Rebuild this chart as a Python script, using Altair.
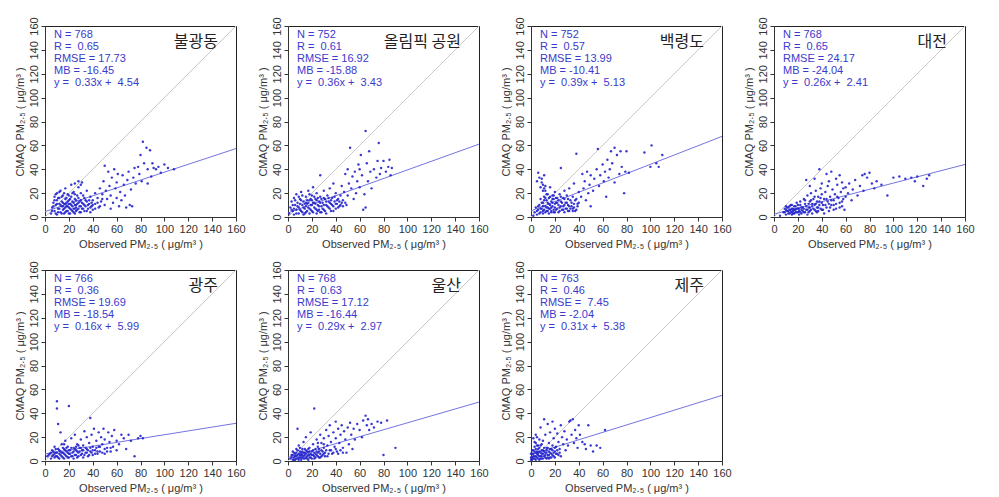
import altair as alt
import pandas as pd

FONT = "Liberation Sans"
KFONT = "Noto Sans CJK KR"

STATIONS = ["불광동", "올림픽 공원", "백령도", "대전", "광주", "울산", "제주"]
N_VALS = [768, 752, 752, 768, 766, 768, 763]
R_VALS = ["0.65", "0.61", "0.57", "0.65", "0.36", "0.63", "0.46"]
RMSE_VALS = ["17.73", "16.92", "13.99", "24.17", "19.69", "17.12", "\u00a07.45"]
MB_VALS = ["-16.45", "-15.88", "-10.41", "-24.04", "-18.54", "-16.44", "-2.04"]
SLOPES = [0.33, 0.36, 0.39, 0.26, 0.16, 0.29, 0.31]
INTERCEPTS = [4.54, 3.43, 5.13, 2.41, 5.99, 2.97, 5.38]

P1 = [(5,3),(6,8),(7,12),(8,5),(8,17),(9,10),(10,2),(10,14),(10,20),(11,7),(12,11),(12,16),(13,4),(13,22),(14,9),(14,13),(15,6),(15,18),(16,3),(16,11),(17,8),(17,15),(17,24),(18,5),(18,12),(19,9),(19,19),(20,3),(20,14),(21,7),(21,11),(22,17),(22,27),(23,5),(23,9),(24,12),(24,21),(25,3),(25,15),(26,8),(26,10),(27,18),(27,6),(28,12),(28,25),(29,4),(29,9),(30,14),(30,20),(31,7),(31,29),(32,11),(33,16),(33,5),(34,9),(35,13),(35,22),(36,7),(37,11),(38,17),(38,4),(39,9),(40,14),(40,6),(28,30),(30,27),(25,28),
      (42,20),(42,11),(44,16),(45,8),(46,24),(47,13),(48,19),(49,30),(50,10),(50,43),(51,22),(52,15),(53,38),(54,26),(55,7),(55,18),(56,33),(57,12),(58,40),(59,24),(60,16),(60,29),(61,36),(62,9),(63,21),(64,14),(65,35),(66,27),(67,18),(68,8),(69,31),(70,38),(71,10),(72,23),(73,9),(74,33),(75,41),
      (76,28),(78,42),(79,36),(80,52),(81,30),(82,63),(83,45),(85,58),(86,40),(88,56),(89,34),(90,45),(91,41),(93,40),(95,42),(97,37),(100,44),(103,41),(108,40),(86,28),
      (6,5),(7,9),(8,14),(9,3),(9,19),(10,11),(11,4),(11,16),(12,7),(12,21),(13,10),(14,3),(14,17),(15,12),(16,7),(16,20),(17,4),(17,11),(18,9),(18,16),(19,5),(19,13),(20,8),(20,18),(21,3),(21,15),(22,6),(22,10),(23,13),(23,20),(24,4),(24,7),(25,10),(25,19),(26,5),(26,14),(27,11),(28,7),(28,16),(29,13),(30,4),(30,9),(31,12),(32,7),(32,18),(33,10),(34,14),(35,5),(36,10),(37,14),(38,8),(39,12),(40,10),(42,7),(44,12),(46,9),(48,15),(15,9),(20,11),(25,7)]
P2 = [(1,3),(2,8),(3,13),(4,5),(5,16),(5,2),(6,10),(7,6),(7,19),(8,12),(9,3),(9,8),(10,15),(11,5),(11,21),(12,10),(13,2),(13,13),(14,7),(15,17),(15,4),(16,11),(17,8),(17,22),(18,14),(18,3),(19,6),(20,10),(20,18),(21,4),(21,25),(22,12),(23,7),(23,15),(24,3),(24,20),(25,10),(26,6),(26,13),(27,17),(27,35),(28,4),(28,9),(29,12),(30,22),(30,6),(31,15),(32,10),(32,3),(33,18),(34,8),(34,13),(35,24),(36,5),(36,11),(37,16),(38,9),(38,28),(39,13),(40,7),(40,20),(41,11),(42,15),(43,9),(44,18),(45,12),(45,26),
      (46,14),(47,21),(48,36),(49,10),(50,18),(50,40),(51,28),(52,58),(53,24),(54,34),(55,15),(56,38),(57,20),(58,30),(59,44),(60,25),(60,40),(61,52),(62,35),(63,6),(64,19),(65,8),(65,72),(66,45),(67,30),(68,55),(69,38),(70,24),(72,40),(74,33),(75,47),(76,62),(77,36),(78,41),(80,47),(82,38),(84,42),(85,48),(86,35),(87,41),
      (3,6),(4,10),(5,7),(6,14),(7,3),(8,9),(9,17),(10,6),(10,11),(11,14),(12,4),(12,18),(13,8),(14,11),(14,3),(15,9),(16,14),(16,5),(17,12),(18,7),(18,19),(19,10),(19,15),(20,5),(21,12),(22,8),(22,17),(23,11),(24,6),(24,14),(25,16),(26,9),(27,4),(27,12),(28,15),(29,7),(30,10),(30,16),(31,5),(32,13),(33,9),(34,16),(35,7),(35,12),(36,14),(37,10),(38,5),(39,17),(40,11),(41,14),(42,8),(43,13),(44,10),(46,9),(48,12),(15,12),(20,14),(25,5)]
P3 = [(2,1),(3,4),(4,8),(5,2),(5,30),(6,37),(6,6),(7,10),(7,33),(8,4),(8,25),(8,15),(9,7),(9,32),(10,3),(10,12),(10,27),(11,6),(11,17),(11,35),(12,9),(12,22),(13,5),(13,14),(14,8),(14,19),(15,3),(15,11),(15,16),(16,7),(16,25),(17,13),(17,5),(18,18),(18,9),(19,4),(19,15),(20,8),(20,21),(21,12),(21,6),(22,16),(23,4),(23,10),(24,19),(24,8),(25,13),(25,41),(26,6),(27,16),(27,9),(28,22),(28,4),(29,12),(30,18),(30,7),(31,10),(32,24),(32,5),(33,14),(34,9),(35,17),(35,7),(36,28),(36,11),(37,5),(38,15),(38,53),(39,9),(40,21),(40,12),
      (42,17),(43,36),(44,24),(45,30),(46,14),(47,38),(48,20),(49,27),(50,9),(50,35),(52,22),(53,32),(55,40),(56,57),(57,26),(58,35),(60,44),(61,30),(62,38),(63,17),(64,48),(65,33),(66,40),(67,55),(68,45),(70,58),(70,29),(72,52),(74,36),(75,55),(76,42),(78,20),(79,38),(80,55),(82,37),(95,54),(100,42),(101,60),(105,45),(110,52),(107,42),
      (5,5),(6,9),(7,3),(8,7),(9,12),(10,5),(10,9),(11,14),(12,4),(12,16),(13,8),(13,19),(14,5),(14,12),(15,7),(16,10),(16,17),(17,4),(17,8),(18,12),(18,15),(19,6),(19,18),(20,4),(20,11),(21,16),(22,7),(22,12),(23,14),(24,5),(25,9),(25,17),(26,12),(27,6),(28,10),(28,15),(29,7),(30,12),(31,5),(31,15),(32,9),(33,7),(34,12),(35,5),(36,8),(37,14),(38,6),(39,11),(11,24),(12,26),(9,29),(10,22)]
P4 = [(5,1),(8,4),(9,7),(10,2),(10,9),(11,5),(12,3),(12,8),(13,6),(14,4),(14,10),(15,2),(15,7),(16,5),(17,9),(17,3),(18,6),(19,4),(19,12),(20,7),(21,2),(21,5),(22,10),(23,6),(23,3),(24,8),(25,15),(25,4),(26,11),(27,6),(28,2),(28,18),(29,8),(30,13),(30,5),(31,20),(32,9),(32,3),(33,15),(34,6),(35,11),(35,22),(36,4),(37,17),(37,8),(38,13),(39,24),(40,6),(40,19),(41,10),(42,15),(42,3),(43,21),(44,8),(45,13),(45,26),(46,5),(47,17),(48,10),(49,23),(50,14),(50,6),(51,19),(52,11),(53,27),(54,16),(55,8),(56,21),(57,13),(58,24),(59,6),(60,17),
      (27,31),(30,26),(34,32),(38,40),(40,28),(44,36),(46,30),(48,38),(52,32),(55,35),(57,29),(60,25),(62,20),(63,28),(65,14),(66,23),(68,31),(70,18),(72,26),(74,35),(75,22),(76,36),(78,33),(80,37),(82,28),(84,24),(86,30),(90,27),(95,18),(100,33),(105,34),(110,32),(115,33),(120,34),(125,26),(128,32),(130,35),(118,30),
      (9,4),(10,6),(11,8),(12,5),(13,3),(13,9),(14,6),(15,4),(15,10),(16,7),(16,3),(17,6),(18,4),(18,9),(19,7),(20,4),(20,10),(21,7),(22,4),(22,13),(23,8),(24,5),(25,7),(26,4),(26,14),(27,9),(28,6),(29,11),(29,4),(30,8),(31,6),(31,14),(32,11),(33,7),(34,10),(34,17),(35,5),(36,8),(36,13),(37,5),(38,10),(39,7),(39,16),(40,12),(41,6),(43,10),(44,15),(46,11),(47,8),(48,14),(50,10),(52,7),(53,17),(55,12),(57,9),(58,15)]
P5 = [(2,4),(4,6),(5,2),(6,9),(7,5),(8,3),(8,12),(9,7),(10,4),(10,50),(10,44),(11,10),(11,31),(12,2),(12,6),(13,8),(13,24),(14,4),(14,14),(15,7),(16,2),(16,10),(17,5),(17,17),(18,8),(19,3),(19,12),(20,6),(20,46),(21,9),(22,4),(22,19),(23,7),(24,11),(24,2),(25,5),(25,22),(26,9),(27,14),(27,3),(28,7),(29,11),(30,5),(30,18),(31,9),(32,3),(32,13),(33,25),(34,7),(35,10),(35,20),(36,4),(37,15),(38,36),(38,8),(39,22),(40,12),(40,5),(41,27),(42,9),(43,17),(44,6),(45,24),(45,12),(46,8),(47,20),(48,14),(49,27),(50,6),(50,18),(52,11),(53,24),(54,16),(55,8),(56,21),(57,12),(58,26),(60,17),(60,9),(62,14),(64,22),(66,19),(68,10),(70,22),(72,17),(75,4),(78,19),(80,21),(82,19),
      (3,5),(5,7),(6,4),(7,8),(8,6),(9,4),(9,10),(10,7),(11,3),(12,9),(13,5),(14,7),(15,3),(15,11),(16,6),(17,9),(18,4),(18,11),(19,7),(20,3),(20,9),(21,6),(22,11),(23,4),(24,8),(25,10),(26,5),(26,12),(27,8),(28,4),(29,8),(30,11),(31,6),(32,9),(33,5),(34,11),(35,7),(36,9),(37,5),(38,11),(39,7),(40,9),(42,6),(43,11),(44,8),(46,12),(48,7),(50,10),(52,8),(55,11),(16,14),(28,13)]
P6 = [(2,2),(3,5),(4,1),(4,8),(5,3),(6,6),(6,1),(7,4),(7,10),(8,2),(8,27),(9,6),(9,13),(10,3),(10,8),(11,1),(11,5),(12,10),(12,3),(13,7),(13,16),(14,2),(14,5),(15,9),(15,20),(16,4),(17,7),(17,1),(18,11),(18,5),(19,3),(19,24),(20,8),(21,5),(21,14),(22,44),(22,2),(23,10),(23,6),(24,18),(25,4),(25,12),(26,8),(27,22),(27,3),(28,15),(28,9),(29,5),(30,19),(30,11),(31,7),(32,26),(33,13),(33,4),(34,21),(35,9),(35,30),(36,16),(37,6),(38,24),(39,12),(40,33),(40,19),(41,8),(42,27),(43,15),(44,22),(45,30),(46,11),(47,25),(48,18),(49,7),(50,28),(51,14),(52,32),(53,22),(54,10),(55,27),(56,18),(58,31),(60,26),(62,20),(63,34),(65,38),(66,30),(67,35),(68,26),(70,31),(72,28),(75,33),(78,32),(80,5),(83,34),(90,11),
      (3,3),(4,5),(5,7),(5,1),(6,4),(7,2),(7,7),(8,5),(8,9),(9,3),(9,1),(10,5),(10,11),(11,7),(11,3),(12,5),(12,8),(13,2),(13,4),(14,7),(14,10),(15,3),(15,6),(16,8),(16,2),(17,5),(17,10),(18,3),(18,8),(19,6),(20,2),(20,5),(21,9),(22,7),(22,4),(23,3),(24,8),(24,5),(25,7),(26,3),(26,10),(27,6),(28,4),(29,8),(30,6),(31,4),(32,9),(34,6),(36,9),(38,7),(40,10),(42,6),(44,9),(46,7),(25,15),(30,14)]
P7 = [(0,3),(1,6),(1,1),(2,9),(2,4),(3,12),(3,2),(4,7),(4,15),(5,3),(5,20),(6,5),(6,10),(7,1),(7,8),(8,4),(8,13),(8,28),(9,6),(9,2),(10,9),(10,17),(11,4),(11,35),(12,7),(12,22),(13,2),(13,11),(14,5),(14,31),(15,8),(15,15),(16,3),(16,24),(17,10),(17,6),(18,13),(18,33),(19,4),(19,19),(20,8),(20,27),(21,12),(22,6),(22,23),(23,16),(24,10),(25,30),(25,4),(26,20),(27,14),(28,25),(29,9),(30,18),(31,13),(32,33),(33,34),(34,22),(35,35),(36,15),(37,26),(38,19),(39,11),(40,30),(41,22),(43,16),(45,14),(46,10),(48,30),(50,13),(52,8),(55,13),(58,11),(62,26),
      (0,1),(0,6),(1,3),(1,9),(2,2),(2,6),(3,4),(3,8),(4,1),(4,4),(4,10),(5,6),(5,8),(6,2),(6,7),(6,13),(7,4),(7,11),(8,2),(8,7),(9,4),(9,9),(10,2),(10,6),(11,8),(11,11),(12,3),(12,5),(13,7),(13,9),(14,3),(14,11),(15,5),(15,2),(16,7),(16,10),(17,3),(18,5),(18,9),(19,7),(20,3),(20,11),(21,6),(22,9),(23,5),(24,7),(3,16),(5,13),(7,18),(9,14),(2,19),(4,22)]
POINTS = [P1, P2, P3, P4, P5, P6, P7]

TICKS = [0, 20, 40, 60, 80, 100, 120, 140, 160]
X_TITLE = "Observed PM₂.₅ ( μg/m³ )"
Y_TITLE = "CMAQ PM₂.₅ ( μg/m³ )"

PT_COLOR = "#2424cc"
TXT_COLOR = "#3a3acc"
REG_COLOR = "#7474e0"
ONE_COLOR = "#c8c8c8"

W = 191
H = 191
NB = "\u00a0"


def panel(i):
    pts = pd.DataFrame(POINTS[i], columns=["x", "y"])
    xs = alt.X("x:Q", scale=alt.Scale(domain=[0, 160], nice=False),
               axis=alt.Axis(values=TICKS, title=X_TITLE, labelOverlap=False))
    ys = alt.Y("y:Q", scale=alt.Scale(domain=[0, 160], nice=False),
               axis=alt.Axis(values=TICKS, title=Y_TITLE, labelAngle=270,
                             labelAlign="center", labelBaseline="bottom",
                             labelOverlap=False))
    one = pd.DataFrame({"x": [0, 160], "y": [0, 160]})
    reg = pd.DataFrame({"x": [0, 160],
                        "y": [INTERCEPTS[i], SLOPES[i] * 160 + INTERCEPTS[i]]})
    stats = "\n".join([
        f"N = {N_VALS[i]}",
        f"R = {NB}{R_VALS[i]}",
        f"RMSE = {RMSE_VALS[i]}",
        f"MB = {MB_VALS[i]}",
        f"y = {NB}{SLOPES[i]:.2f}x + {NB}{INTERCEPTS[i]:.2f}",
    ])
    l_one = alt.Chart(one).mark_line(color=ONE_COLOR, strokeWidth=1).encode(x=xs, y=ys)
    l_reg = alt.Chart(reg).mark_line(color=REG_COLOR, strokeWidth=1).encode(x=xs, y=ys)
    sc = alt.Chart(pts).mark_circle(size=6, color=PT_COLOR,
                                    opacity=0.9).encode(x=xs, y=ys)
    t1 = alt.Chart(pd.DataFrame({"t": [stats]})).mark_text(
        align="left", baseline="top", lineBreak="\n", lineHeight=12,
        font=FONT, fontSize=11, color=TXT_COLOR
    ).encode(x=alt.value(9), y=alt.value(3), text="t:N")
    t2 = alt.Chart(pd.DataFrame({"t": [STATIONS[i]]})).mark_text(
        align="right", baseline="middle", font=KFONT, fontSize=16,
        color="#222222"
    ).encode(x=alt.value(W - 18), y=alt.value(16), text="t:N")
    return alt.layer(l_one, l_reg, sc, t1, t2).properties(width=W, height=H)


chart = alt.concat(
    *[panel(i) for i in range(7)],
    columns=4,
    spacing={"row": 53, "column": 52},
    bounds="flush",
).properties(
    padding={"left": 5, "top": 8, "right": 5, "bottom": 5}
).configure_view(
    stroke="#222222", strokeWidth=1
).configure_axis(
    grid=False, labelFont=FONT, titleFont=FONT, labelFontSize=11,
    titleFontSize=11, titleFontWeight="normal", labelColor="#333333",
    titleColor="#333333", tickColor="#333333", domainColor="#333333",
    tickSize=4, labelPadding=2, titlePadding=4, labelFlush=False,
    labelOverlap=False
).configure_axisY(
    titlePadding=3
)

chart.save("out.html", embed_options={"renderer": "svg", "actions": False})
